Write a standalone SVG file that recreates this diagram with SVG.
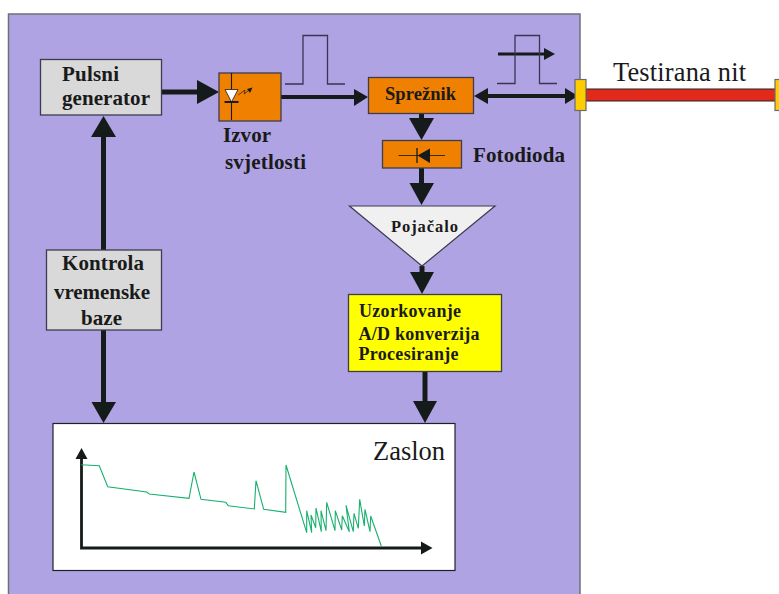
<svg xmlns="http://www.w3.org/2000/svg" width="779" height="594" viewBox="0 0 779 594">
<style>
.b{font-family:"Liberation Serif","Times New Roman",serif;font-weight:bold;fill:#1a1a1a}
.r{font-family:"Liberation Serif","Times New Roman",serif;fill:#1a1a1a}
.box{stroke:#3c3c50;stroke-width:1.3}
.gray{fill:#d9d9d9}
.or{fill:#f08000}
.ln{fill:none;stroke:#151a1a;stroke-linecap:butt}
.hd{fill:#151a1a;stroke:none}
.pulse{fill:none;stroke:#3a3550;stroke-width:1.3}
.conn{fill:#ffcc00;stroke:#6a6a72;stroke-width:1.2}
</style>
<rect width="779" height="594" fill="#ffffff"/>
<rect id="panel" x="8.5" y="14" width="571.5" height="582" fill="#afa3e3" stroke="#6f6f78" stroke-width="1.5"/>

<g id="connectors">
<path class="ln" stroke-width="5" d="M161 92H198"/><polygon class="hd" points="197,80 219,92 197,104"/>
<path class="ln" stroke-width="4" d="M281 97H356"/><polygon class="hd" points="354,89 368,97 354,106"/>
<path class="ln" stroke-width="4" d="M485 96H566"/><polygon class="hd" points="474,96 488,88 488,104"/><polygon class="hd" points="565,88 578,96 565,104"/>
<path class="ln" stroke-width="5" d="M421.5 113V120"/><polygon class="hd" points="409,118 434,118 421.5,140"/>
<path class="ln" stroke-width="5" d="M421.5 168V185"/><polygon class="hd" points="409.500,183 434,183 421.500,205"/>
<path class="ln" stroke-width="5" d="M422 266V274"/><polygon class="hd" points="410,272 434,272 422,294"/>
<path class="ln" stroke-width="5" d="M425 371V403"/><polygon class="hd" points="413,401 437,401 425,423"/>
<path class="ln" stroke-width="5" d="M103.500 135V250"/><polygon class="hd" points="103.500,116 116,137 91,137"/>
<path class="ln" stroke-width="5" d="M103.500 330V404"/><polygon class="hd" points="91.500,402 116,402 103.500,423"/>
<path class="ln" stroke-width="2.800" d="M498 54H546"/><polygon class="hd" points="544,48 555,54 544,60"/>
</g>

<g id="pulses">
<path class="pulse" d="M285 84H303V35.500H327.500V84H345"/>
<path class="pulse" d="M497 83.500H515V35.500H539.500V83.500H557"/>
</g>

<g id="pulsni-generator">
<rect class="box gray" x="40.500" y="59.500" width="121" height="55.500"/>
<text class="b" x="62" y="81" font-size="21" textLength="57">Pulsni</text>
<text class="b" x="62" y="105" font-size="21" textLength="88">generator</text>
</g>

<g id="izvor-svjetlosti">
<rect class="box or" x="219" y="73" width="62" height="48"/>
<path d="M231.500 73V120" stroke="#1a1a1a" stroke-width="1.100" fill="none"/>
<polygon points="225,89.500 238,89.500 231.500,102" fill="#ffffff" stroke="#1a1a1a" stroke-width="0.800"/>
<path d="M224.500 102H238.500" stroke="#1a1a1a" stroke-width="2" fill="none"/>
<path d="M238.300 95L245 90L244.300 94L249 90" stroke="#1a1a1a" stroke-width="0.700" fill="none"/>
<polygon class="hd" points="252.500,87.500 250,93 247,89"/>
<text class="b" x="223" y="142" font-size="21" textLength="48">Izvor</text>
<text class="b" x="225" y="169" font-size="21" textLength="81">svjetlosti</text>
</g>

<g id="spreznik">
<rect class="box or" x="368.500" y="77.500" width="105" height="36"/>
<text class="b" x="385" y="100" font-size="18.500" textLength="71">Sprežnik</text>
</g>

<g id="fotodioda">
<rect class="box or" x="382.500" y="140.500" width="79" height="27.500"/>
<path d="M398.500 155.500H445" stroke="#3a2a10" stroke-width="1" fill="none"/>
<path d="M417 148V163" stroke="#1a1a1a" stroke-width="1.300" fill="none"/>
<polygon class="hd" points="417.500,155.500 430,148.500 430,163"/>
<text class="b" x="473" y="162" font-size="21" textLength="92">Fotodioda</text>
</g>

<g id="pojacalo">
<polygon points="349.500,206 495,206 422,266" fill="#f0f0f0" stroke="#3c3c50" stroke-width="1.200"/>
<text class="b" x="391" y="232" font-size="16.500" textLength="67">Pojačalo</text>
</g>

<g id="obrada">
<rect class="box" x="348.500" y="294.500" width="153" height="77" fill="#ffff00"/>
<text class="b" x="359" y="317" font-size="18" textLength="102">Uzorkovanje</text>
<text class="b" x="358.500" y="340" font-size="18" textLength="121">A/D konverzija</text>
<text class="b" x="358.500" y="360" font-size="18" textLength="100">Procesiranje</text>
</g>

<g id="kontrola">
<rect class="box gray" x="46.500" y="250" width="115" height="80"/>
<text class="b" x="62" y="270" font-size="21" textLength="82">Kontrola</text>
<text class="b" x="54" y="299" font-size="21" textLength="96">vremenske</text>
<text class="b" x="81" y="325" font-size="21" textLength="41">baze</text>
</g>

<g id="zaslon">
<rect x="53" y="423.500" width="402" height="147" fill="#ffffff" stroke="#202028" stroke-width="1.200"/>
<text class="r" x="373" y="460" font-size="26.500" textLength="72">Zaslon</text>
<path class="ln" stroke-width="2.800" d="M81.500 458V548H422"/>
<polygon class="hd" points="81.500,448 87.500,459 75.500,459"/>
<polygon class="hd" points="421,541.500 432.500,548 421,554.500"/>
<path fill="none" stroke="#17b06e" stroke-width="1.100" d="M81.300 464.700L99.300 465.700L107.700 486.700L146.700 492L149.300 494L189 498.300L194 472L201 499.300L225.700 502.300L228.300 505.700L254.300 509L256 480.700L263.700 509.300L285.700 512.300L286 465L306.700 532.700L306.700 510.700L311.700 532.700L311 515L315.700 527.700L316 508L321.300 531.700L321 510.700L326 530.700L326.700 502.300L335 530.700L335.300 510.700L341.700 530L342.300 515.700L349.300 531.700L346 505.300L353.300 531.700L354 513.300L358.300 528.300L359.700 499.300L364.300 526L365 509.300L370 531.700L370.700 516L381.300 546"/>
</g>

<g id="testirana-nit">
<rect x="586" y="89" width="190" height="12" fill="#e02a1b" stroke="#2a2020" stroke-width="1"/>
<rect class="conn" x="575" y="79.500" width="11" height="31"/>
<rect class="conn" x="775" y="79.500" width="11" height="31"/>
<text class="r" x="613" y="81" font-size="26.400" textLength="133">Testirana nit</text>
</g>
</svg>
